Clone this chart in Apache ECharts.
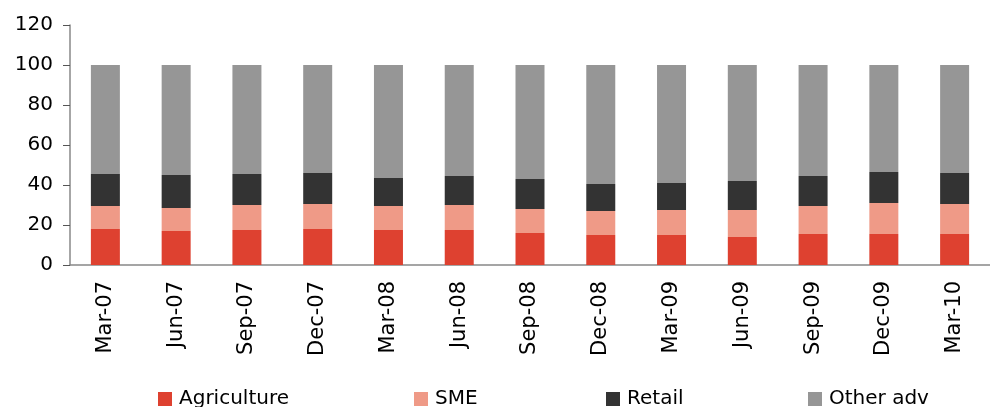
<!DOCTYPE html>
<html>
<head>
<meta charset="utf-8">
<script src="https://cdn.jsdelivr.net/npm/echarts@6/dist/echarts.min.js"></script>
<style>html,body{margin:0;padding:0;background:#fff}#c{width:990px;height:407px}</style>
</head>
<body>
<div id="c"></div>
<script>
const categories = ['Mar-07','Jun-07','Sep-07','Dec-07','Mar-08','Jun-08','Sep-08','Dec-08','Mar-09','Jun-09','Sep-09','Dec-09','Mar-10'];
const agriculture = [18, 17, 17.5, 18, 17.5, 17.5, 16, 15, 15, 14, 15.5, 15.5, 15.5];
const sme = [11.5, 11.5, 12.5, 12.5, 12, 12.5, 12, 12, 12.5, 13.5, 14, 15.5, 15];
const retail = [16, 16.5, 15.5, 15.5, 14, 14.5, 15, 13.5, 13.5, 14.5, 15, 15.5, 15.5];
const otherAdv = [54.5, 55, 54.5, 54, 56.5, 55.5, 57, 59.5, 59, 58, 55.5, 53.5, 54];
const yTicks = { min: 0, max: 120, interval: 20 };

const names = ['Agriculture', 'SME', 'Retail', 'Other adv'];
const colors = ['#DE4130', '#EF9A87', '#333333', '#969696'];
const values = [agriculture, sme, retail, otherAdv];
const legendLeft = [153, 409, 601, 803];
const font = 'DejaVu Sans';

const chart = echarts.init(document.getElementById('c'));
chart.setOption({
  animation: false,
  textStyle: { fontFamily: font },
  grid: { left: 70, top: 25, bottom: 142, width: 928 },
  legend: names.map((n, i) => ({
    data: [n], left: legendLeft[i], top: 384, icon: 'rect', itemWidth: 14, itemHeight: 14,
    textStyle: { fontFamily: font, fontSize: 20, color: '#000', padding: [0, 0, 0, 2] }
  })),
  xAxis: {
    type: 'category', data: categories,
    axisLine: { lineStyle: { color: '#888', width: 1.5 } },
    axisTick: { length: 7, lineStyle: { color: '#555' } },
    axisLabel: { rotate: 90, fontSize: 21, color: '#000', margin: 16, fontFamily: font }
  },
  yAxis: {
    type: 'value', min: yTicks.min, max: yTicks.max, interval: yTicks.interval,
    splitLine: { show: false },
    axisLine: { show: true, lineStyle: { color: '#888', width: 1.5 } },
    axisTick: { show: true, length: 7, lineStyle: { color: '#555' } },
    axisLabel: { fontSize: 20, color: '#000', margin: 17, fontFamily: font }
  },
  series: names.map((n, i) => ({
    name: n, type: 'bar', stack: 'total', data: values[i], barWidth: 29,
    itemStyle: { color: colors[i] }
  }))
});
</script>
</body>
</html>
